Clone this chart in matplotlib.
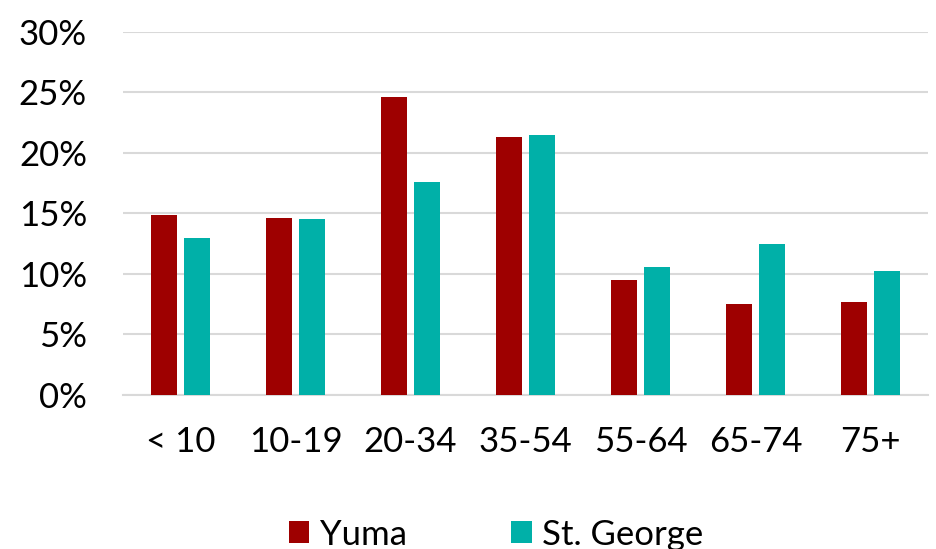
import matplotlib.pyplot as plt
import matplotlib.ticker as ticker
import numpy as np

plt.rcParams["font.family"] = ["Lato", "DejaVu Sans"]

_RED  = "#9E0000"
_TEAL = "#00B0A8"
_GRID = "#D9D9D9"

categories = ["< 10", "10-19", "20-34", "35-54", "55-64", "65-74", "75+"]
yuma       = [14.9, 14.6, 24.6, 21.3, 9.5, 7.5, 7.7]
st_george  = [13.0, 14.5, 17.6, 21.5, 10.6, 12.5, 10.2]

fig = plt.figure(figsize=(9.36, 5.49), dpi=100)
ax = fig.add_axes([0.1314, 0.2805, 0.86, 0.6618])

x = np.arange(len(categories))
w = 0.223
gap = 0.064
ax.bar(x - (w + gap) / 2, yuma, width=w, color=_RED, label="Yuma", zorder=3)
ax.bar(x + (w + gap) / 2, st_george, width=w, color=_TEAL, label="St. George", zorder=3)

ax.set_xlim(-0.5, len(categories) - 0.5)
ax.set_ylim(0, 30)
ax.set_yticks(range(0, 31, 5))
ax.yaxis.set_major_formatter(ticker.FuncFormatter(lambda v, _: f"{v:.0f}%"))
ax.set_xticks(x)
ax.set_xticklabels(categories)

ax.grid(axis="y", color=_GRID, linewidth=1.5, zorder=0)
for side in ["top", "right", "left"]:
    ax.spines[side].set_visible(False)
ax.spines["bottom"].set_color(_GRID)
ax.spines["bottom"].set_linewidth(1.5)
ax.tick_params(axis="both", length=0, labelsize=25, colors="black")
ax.tick_params(axis="y", pad=26)
ax.tick_params(axis="x", pad=22)

fig.legend(loc="lower center", bbox_to_anchor=(0.53, -0.06), ncol=2, frameon=False,
           fontsize=25, handlelength=0.6, handleheight=0.6, handletextpad=0.3,
           columnspacing=3.0)

fig.savefig("out.png", dpi=100)
